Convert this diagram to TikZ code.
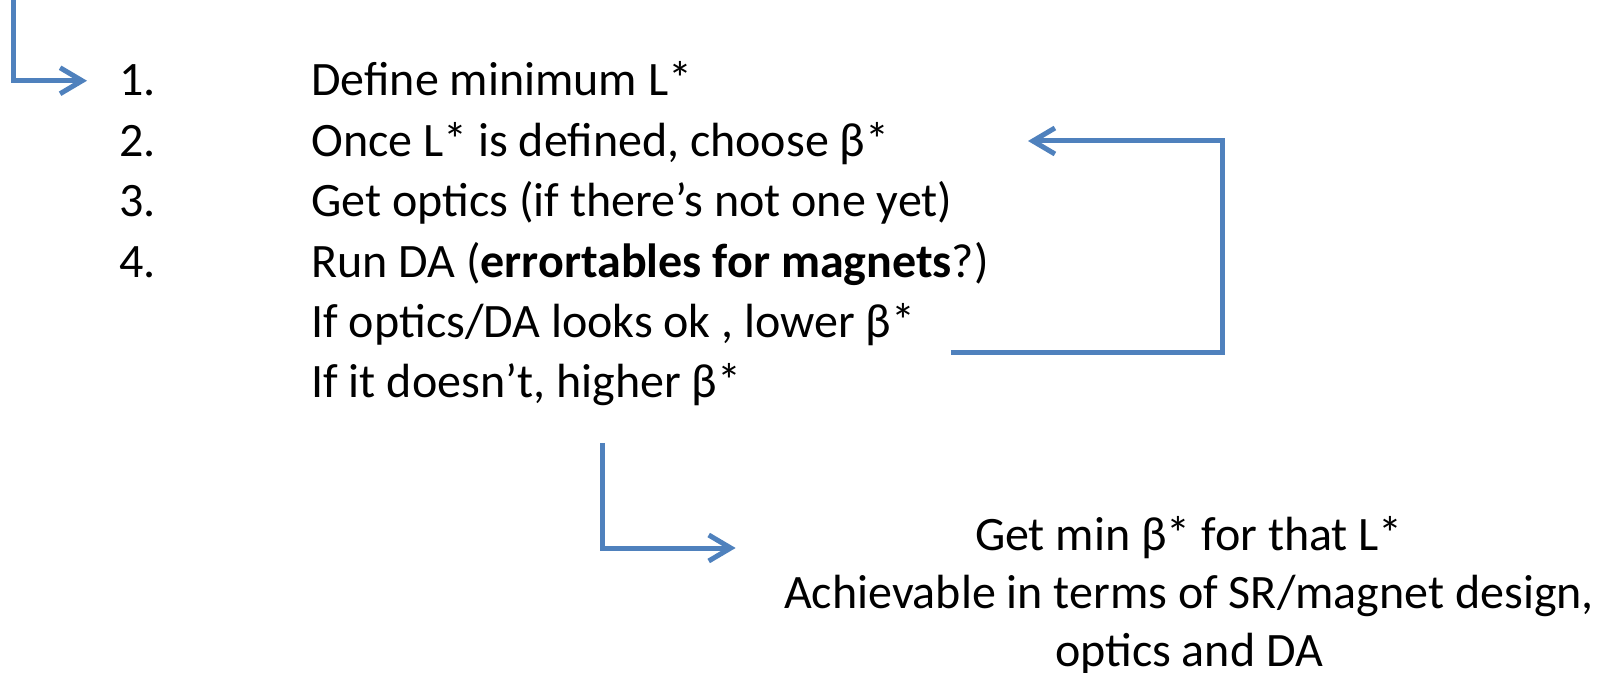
\documentclass[tikz,border=0pt]{standalone}
\usepackage{fontspec}
\setmainfont{Carlito}
\usetikzlibrary{positioning,arrows.meta}
\definecolor{flowblue}{RGB}{79,129,189}

\begin{document}
\begin{tikzpicture}[
    x=0.5pt, y=-0.5pt,
    node distance=30.2pt,
    txt/.style={inner sep=0pt, anchor=base west, font=\fontsize{24pt}{30pt}\selectfont},
    result/.style={inner sep=0pt, align=center, anchor=base, font=\fontsize{24pt}{29pt}\selectfont},
    arrow/.style={draw=flowblue, line width=2.5pt, -{Straight Barb[length=11pt,width=13pt]}}
]
\useasboundingbox (0,0) rectangle (1612,673);

% Nodes
\node[txt] (n1) at (119,96) {1.};
\node[txt, below=of n1.base west, anchor=base west] (n2) {2.};
\node[txt, below=of n2.base west, anchor=base west] (n3) {3.};
\node[txt, below=of n3.base west, anchor=base west] (n4) {4.};

\node[txt] (t1) at (311,96) {Define minimum L*};
\node[txt, below=of t1.base west, anchor=base west] (t2) {Once L* is defined, choose β*};
\node[txt, below=of t2.base west, anchor=base west] (t3) {Get optics (if there’s not one yet)};
\node[txt, below=of t3.base west, anchor=base west] (t4) {Run DA (\textbf{errortables for magnets}?)};
\node[txt, below=of t4.base west, anchor=base west] (t5) {If optics/DA looks ok , lower β*};
\node[txt, below=of t5.base west, anchor=base west] (t6) {If it doesn’t, higher β*};

% last line of the result sits on y=666
\node[result] (res) at (1189,666) {Get min β* for that L*\\Achievable in terms of SR/magnet design,\\optics and DA};

\coordinate (entry) at (13,0);
\coordinate (drop) at (602,443);
\coordinate (back) at (1222,141);

% Arrows
\draw[arrow, shorten >=16pt] (entry) |- (n1);
\draw[arrow] ([shift={(35,15)}]t5.base east) -| (back) -- ++(-194,0);
\draw[arrow] (drop) |- ([shift={(-48,-118)}]res.base west);

\end{tikzpicture}
\end{document}
